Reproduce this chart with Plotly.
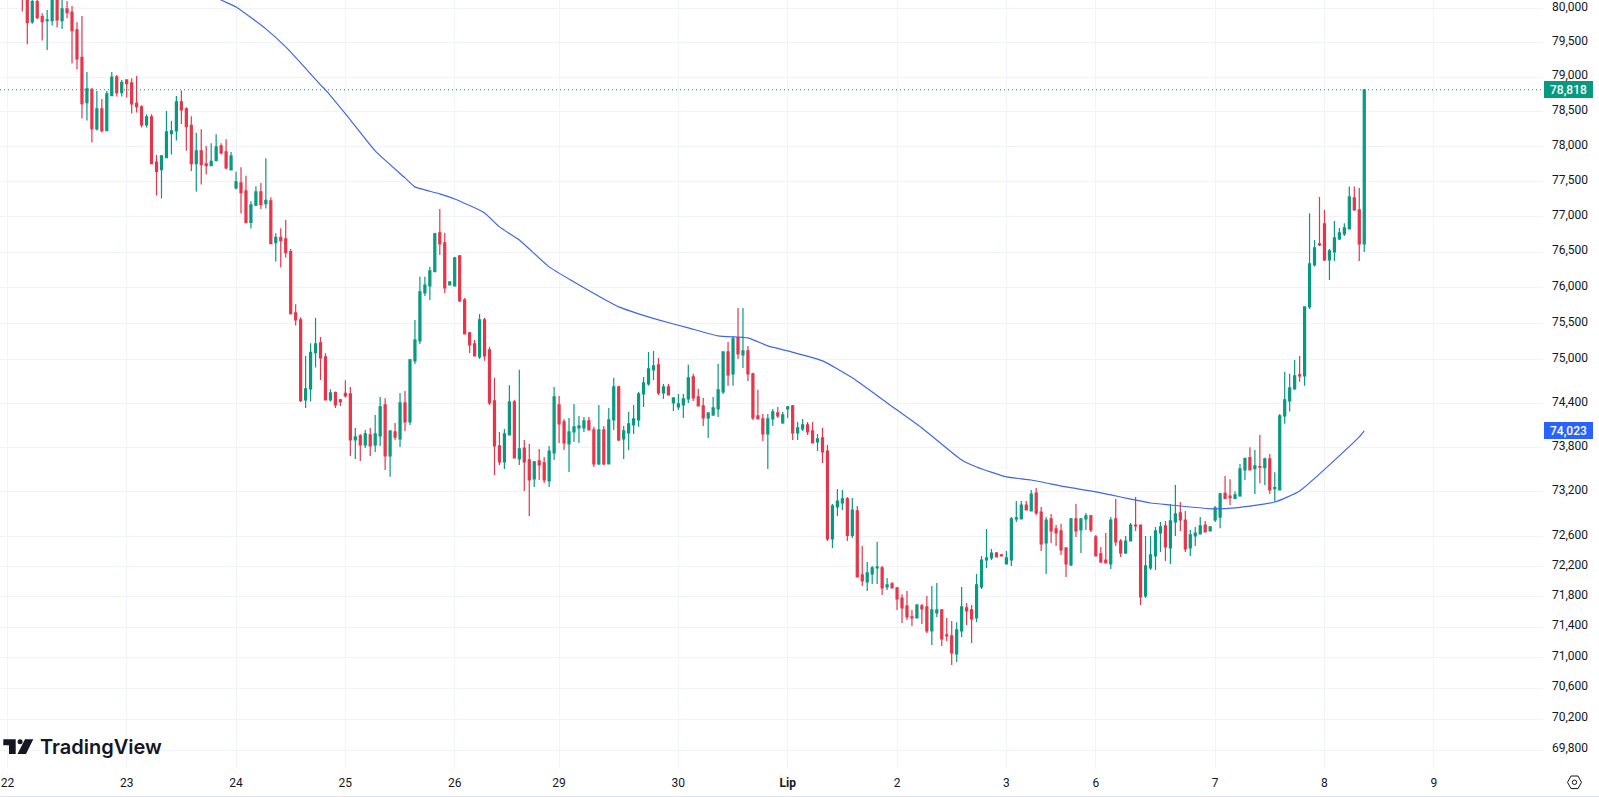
import math
import plotly.graph_objects as go

# Hourly session bars, oldest first
opens = [
    80400,80300,79808,80106,79886,79827,79827,80190,79827,79998,
    79950,79691,79290,78632,78825,78252,78540,78228,78733,79004,
    78776,78960,78917,78622,78569,78310,78425,77774,77669,77840,
    78185,78224,78641,78540,78305,77755,77936,77750,77726,77798,
    78008,77921,77664,77407,77479,77365,76916,77161,77350,77184,
    77222,76633,76708,76685,76505,75647,75550,74446,74597,75097,
    75231,75038,74446,74547,74446,74538,74529,73900,73955,73832,
    73968,73832,73955,74378,73683,74009,73914,74405,74146,74983,
    75259,75926,76025,76225,76770,76628,76039,76025,76445,75828,
    75370,75217,75038,75550,75134,74432,73819,73602,73968,74419,
    73642,73791,73629,73372,73615,73588,73345,73723,74378,74146,
    73846,74009,74064,74064,74159,74037,73574,74037,73574,74173,
    74625,73914,73996,74105,74173,74529,74666,74859,74928,74543,
    74625,74405,74350,74378,74460,74762,74487,74364,74200,74241,
    74323,74556,75106,74804,75300,75065,75120,74804,74228,74187,
    73982,74187,74268,74132,74323,74364,73996,74050,74105,74023,
    73873,73928,73750,72566,72994,73048,73102,72615,72941,72087,
    71995,72101,72180,72180,71928,71968,71915,71782,71677,71533,
    71520,71677,71664,71349,71586,71625,71296,71283,71047,71349,
    71651,71625,71520,71928,72286,72313,72379,72353,72233,72286,
    72834,72834,73021,72941,73182,72927,72512,72834,72700,72673,
    72446,72220,72834,72687,72834,72874,72593,72366,72286,72233,
    72834,72539,72379,72539,72753,72753,71809,72180,72339,72646,
    72740,72446,72794,72914,72820,72446,72606,72633,72753,72673,
    72820,72857,73178,73142,73111,73142,73494,73660,73512,73539,
    73525,73642,73241,73223,74228,74432,74597,74790,74776,75731,
    76319,76614,76897,76389,76501,76685,76755,76826,77265,77095,
    76614,
]
highs = [
    80500,80420,80250,80130,79935,79984,80250,80280,80130,80115,
    80042,79803,79896,79077,78840,78801,78684,78801,79077,79033,
    78960,78970,78985,79019,78593,78464,78464,77879,77879,78512,
    78368,78728,78806,78564,78435,78195,78248,78008,78046,78176,
    78046,78104,77921,77636,77702,77579,77217,77431,77479,77831,
    77274,76765,76836,76953,76543,75768,75587,75051,75226,75578,
    75314,75088,74593,74561,74460,74717,74625,74064,73982,74037,
    74064,74241,74487,74469,74023,74132,74542,74570,75010,75550,
    76151,76151,76291,76770,77109,76770,76081,76431,76459,75856,
    75384,75273,75634,75578,75175,74749,74009,74050,74648,74446,
    74859,73900,73846,73615,73778,73669,73819,74625,74501,74187,
    74200,74391,74228,74214,74214,74078,74378,74091,74337,74749,
    74639,74091,74282,74378,74556,74762,75106,75120,75024,74666,
    74666,74474,74529,74529,74928,74804,74598,74474,74268,74487,
    74941,75106,75245,75328,75717,75717,75190,74818,74584,74255,
    74255,74323,74350,74282,74364,74378,74146,74187,74146,74146,
    73982,74064,73832,73034,73237,73223,73129,73115,73008,72472,
    72260,72207,72526,72207,72048,71995,71928,71831,71875,71625,
    71704,71704,71809,71942,71982,71638,71520,71480,71463,71928,
    71717,71690,72101,72339,72700,72432,72392,72366,72406,72861,
    73075,73075,73075,73223,73250,72994,72861,72901,72753,72767,
    72446,72847,73034,72847,72914,72887,72620,72459,72646,72861,
    73102,72566,72606,72780,73129,72753,72606,72606,72727,72794,
    72807,73034,73291,73061,72941,72687,72727,72861,72807,72740,
    73008,73187,73412,73367,73201,73575,73651,73800,73764,73969,
    73660,73710,73462,74255,74831,74804,74996,75051,75731,77048,
    76670,77279,77095,76543,76939,76840,76906,77426,77426,77407,
    78818,
]
lows = [
    79960,79481,79779,79847,79535,79397,79754,79725,79705,79862,
    79198,79111,78401,78372,78056,78228,78200,78228,78728,78719,
    78719,78704,78473,78488,78272,78272,77755,77298,77255,77840,
    77883,78084,78324,77940,77650,77355,77455,77598,77726,77798,
    77883,77669,77655,77384,77043,76902,76831,77151,77109,77113,
    76614,76366,76282,76422,75627,75471,74419,74337,74423,74891,
    74721,74437,74423,74337,74364,74478,73683,73642,73615,73791,
    73683,73737,73819,73493,73403,73900,73805,74023,74105,74941,
    75217,75884,75828,76225,76459,75926,76039,76011,75800,75356,
    75093,75051,75010,74983,74378,73426,73561,73507,73968,73656,
    73561,73210,72874,73264,73358,73318,73264,73629,73860,73764,
    73467,73873,73860,74009,74037,73534,73561,73561,73574,74037,
    73887,73642,73764,73982,74078,74350,74639,74721,74515,74460,
    74515,74296,74309,74200,74405,74432,74364,74091,73928,74228,
    74214,74529,74639,74639,75010,74886,74707,74173,74187,73887,
    73507,74091,74200,74119,74200,73900,73900,74023,73968,73860,
    73750,73588,72539,72446,72874,72954,72539,72579,72061,71941,
    71875,71968,71968,71822,71888,71915,71625,71454,71493,71415,
    71520,71441,71323,71165,71533,71152,71217,70904,70943,71270,
    71428,71191,71467,71902,72180,72286,72326,72339,72233,72207,
    72794,72834,72954,72941,72887,72406,72101,72512,72472,72353,
    72061,72207,72593,72379,72687,72660,72339,72247,72247,72167,
    72472,72326,72366,72539,72673,71690,71782,72154,72154,72392,
    72273,72233,72606,72673,72392,72339,72472,72633,72660,72673,
    72794,72709,73111,73021,73111,73133,73358,73494,73169,73313,
    73291,73169,73066,73223,74119,74287,74584,74694,74639,75703,
    76295,76586,76375,76108,76375,76670,76727,76826,77081,76375,
    76501,
]
closes = [
    80220,79798,80106,79871,79813,79837,80180,79837,79998,79945,
    79681,79266,78617,78830,78257,78540,78228,78757,79000,78776,
    78927,78907,78612,78574,78310,78425,77755,77641,77864,78209,
    78224,78641,78526,78286,77755,77936,77741,77726,77788,77993,
    77907,77693,77864,77493,77341,76916,77165,77350,77170,77231,
    76618,76708,76661,76492,75638,75550,74437,74597,75102,75217,
    75024,74446,74542,74378,74423,74501,73900,73941,73832,73982,
    73819,73982,74350,73683,74023,73937,74405,74146,74996,75273,
    75941,76034,76235,76756,76614,75997,76081,76416,75814,75356,
    75203,75051,75550,75051,74405,73819,73602,73982,74419,73656,
    73778,73602,73358,73602,73561,73358,73750,74487,74119,73860,
    74009,74078,74091,74159,74037,73574,74037,73574,74173,74625,
    73900,74023,74119,74187,74529,74680,74873,74914,74543,74625,
    74515,74474,74391,74460,74749,74474,74364,74200,74268,74337,
    74584,75106,74790,75287,75079,75120,74804,74200,74187,73982,
    74187,74282,74228,74241,74350,73996,74064,74105,74009,73860,
    73914,73737,72566,73008,73075,73102,72615,72954,72061,72008,
    72114,72180,72194,71915,71955,71915,71769,71651,71533,71520,
    71690,71638,71349,71625,71625,71244,71283,71060,71362,71664,
    71612,71507,71955,72286,72313,72379,72326,72339,72313,72834,
    72847,73021,72954,73169,72914,72499,72820,72673,72646,72419,
    72233,72834,72673,72834,72874,72687,72339,72260,72247,72820,
    72526,72379,72539,72753,72740,71796,72207,72353,72673,72727,
    72459,72807,72901,72820,72432,72620,72646,72740,72660,72727,
    72981,73172,73111,73120,73156,73507,73651,73494,73548,73530,
    73642,73223,73255,74228,74446,74611,74776,74776,75731,76333,
    76557,76600,76389,76515,76699,76769,76840,77279,77095,76614,
    78818,
]

# Moving average, sampled by bar number
ma_bars = [38,40,43,49,53,56,60,61,66,71,77,79,81,84,87,93,96,100,106,111,117,120,
           124,128,134,140,146,150,154,161,167,174,181,189,192,198,203,210,215,219,
           223,227,231,235,240,244,252,257,269,270]
ma_values = [80240,80130,80028,79705,79441,79208,78888,78815,78382,77936,77550,77422,
             77379,77322,77250,77052,76854,76670,76291,76080,75842,75731,75634,75550,
             75439,75328,75300,75190,75120,74983,74749,74405,74064,73629,73534,73399,
             73358,73264,73210,73156,73101,73048,73021,72994,72968,72981,73061,73210,
             73941,74023]

# Session boundaries on the time axis, by bar number
day_bars = [-3,21,43,65,87,108,132,154,176,198,216,240,262,284]
day_labels = ["22","23","24","25","26","29","30","<b>Lip</b>","2","3","6","7","8","9"]

price_ticks = [80000,79500,79000,78500,78000,77500,77000,76500,76000,75500,75000,
               74400,73800,73200,72600,72200,71800,71400,71000,70600,70200,69800]

last_close = closes[-1]
last_ma = ma_values[-1]

UP = "#089981"
DOWN = "#E6354A"
MA_LINE = "#3F68E0"
MA_BADGE = "#2962FF"
INK = "#131722"
GRID = "#F0F3FA"

W, H = 1599, 797
PLOT_W, PLOT_H = 1543, 768
X_RANGE = [-4.49, 305.97]
Y_RANGE = [math.log10(69572), math.log10(80130)]


def fx(px):
    return px / PLOT_W


def fy(py):
    return 1 - py / PLOT_H


def poly(points):
    return "M " + " L ".join(f"{fx(x):.5f},{fy(y):.5f}" for x, y in points) + " Z"


bars = list(range(len(closes)))

fig = go.Figure()
fig.add_trace(go.Candlestick(
    x=bars, open=opens, high=highs, low=lows, close=closes,
    increasing=dict(line=dict(color=UP, width=1.2), fillcolor=UP),
    decreasing=dict(line=dict(color=DOWN, width=1.2), fillcolor=DOWN),
    whiskerwidth=0, hoverinfo="skip",
))
fig.add_trace(go.Scatter(
    x=ma_bars, y=ma_values, mode="lines",
    line=dict(color=MA_LINE, width=1.2, shape="spline", smoothing=0.5), hoverinfo="skip",
))
fig.add_trace(go.Scatter(
    x=X_RANGE, y=[last_close, last_close], mode="lines",
    line=dict(color=UP, width=1, dash="1px,3px"), hoverinfo="skip",
))

# Wordmark, settings glyph and the rule along the bottom edge
shapes = [
    dict(type="path", xref="paper", yref="paper", fillcolor=INK, line_width=0, layer="above",
         path=poly([(3.3, 739.3), (15.7, 739.3), (15.7, 754), (9, 754), (9, 745.2), (3.3, 745.2)])),
    dict(type="circle", xref="paper", yref="paper", fillcolor=INK, line_width=0, layer="above",
         x0=fx(17.6), x1=fx(22.6), y0=fy(744.3), y1=fy(739.3)),
    dict(type="path", xref="paper", yref="paper", fillcolor=INK, line_width=0, layer="above",
         path=poly([(25, 739.3), (33.3, 739.3), (26, 754), (17.5, 754)])),
    dict(type="path", xref="paper", yref="paper", line=dict(color=INK, width=1), layer="above",
         path=poly([(1567.5, 782.3), (1571, 776), (1578, 776), (1581.5, 782.3), (1578, 788.6), (1571, 788.6)])),
    dict(type="circle", xref="paper", yref="paper", line=dict(color=INK, width=1), layer="above",
         x0=fx(1572.3), x1=fx(1576.7), y0=fy(784.5), y1=fy(780.1)),
    dict(type="line", xref="paper", yref="paper", line=dict(color="#E0E3EB", width=1), layer="above",
         x0=0, x1=fx(W), y0=fy(796.5), y1=fy(796.5)),
]


def price_badge(value, color):
    return dict(
        xref="paper", yref="y", x=fx(1544), y=math.log10(value),
        xanchor="left", yanchor="middle", showarrow=False,
        text=f"{value:,}", font=dict(family="Roboto", size=12, color="white", weight=500),
        bgcolor=color, width=49, height=17, borderpad=0, borderwidth=0, align="center",
    )


annotations = [
    price_badge(last_close, UP),
    price_badge(last_ma, MA_BADGE),
    dict(xref="paper", yref="paper", x=fx(37.5), y=fy(746.5), xanchor="left", yanchor="middle",
         showarrow=False, text="TradingView",
         font=dict(family="Inter", size=20, color=INK, weight=600)),
]

fig.update_layout(
    width=W, height=H,
    margin=dict(l=0, r=W - PLOT_W, t=0, b=H - PLOT_H, pad=0),
    paper_bgcolor="white", plot_bgcolor="white",
    showlegend=False, hovermode=False,
    boxgap=0.42,
    font=dict(family="Roboto", size=12, color=INK),
    shapes=shapes, annotations=annotations,
    xaxis=dict(
        range=X_RANGE, tickmode="array", tickvals=day_bars, ticktext=day_labels,
        showgrid=True, gridcolor=GRID, gridwidth=1, zeroline=False, showline=False,
        ticks="", ticklabelstandoff=6, rangeslider=dict(visible=False),
        tickfont=dict(family="Roboto", size=12, color=INK), tickangle=0,
    ),
    yaxis=dict(
        type="log", range=Y_RANGE, side="right", tickmode="array",
        tickvals=price_ticks, ticktext=[f"{v:,}" for v in price_ticks],
        showgrid=True, gridcolor=GRID, gridwidth=1, zeroline=False, showline=False,
        ticks="", ticklabelstandoff=8, ticklabelshift=-2,
        tickfont=dict(family="Roboto", size=12, color=INK),
    ),
)

fig.write_html("out.html", config={"displayModeBar": False})
